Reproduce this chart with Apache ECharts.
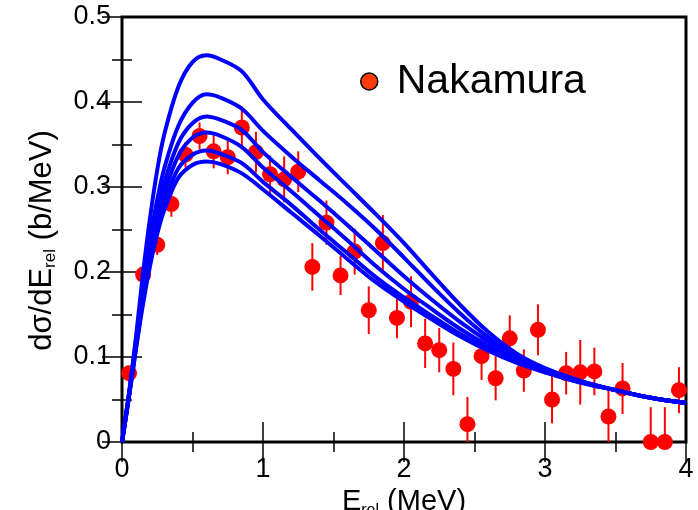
<!DOCTYPE html>
<html>
<head>
<meta charset="utf-8">
<script src="https://cdn.jsdelivr.net/npm/echarts@6/dist/echarts.min.js"></script>
<style>
  html, body { margin: 0; padding: 0; background: #ffffff; }
  #chart { width: 698px; height: 510px; }
</style>
</head>
<body>
<div id="chart"></div>
<script>
// Measured Coulomb-breakup spectrum (Nakamura): relative energy, cross section, error
const expE = [0.05, 0.15, 0.25, 0.35, 0.45, 0.55, 0.65, 0.75, 0.85, 0.95,
              1.05, 1.15, 1.25, 1.35, 1.45, 1.55, 1.65, 1.75, 1.85, 1.95,
              2.05, 2.15, 2.25, 2.35, 2.45, 2.55, 2.65, 2.75, 2.85, 2.95,
              3.05, 3.15, 3.25, 3.35, 3.45, 3.55, 3.75, 3.85, 3.95];
const expSigma = [0.081, 0.197, 0.232, 0.280, 0.338, 0.360, 0.342, 0.335, 0.370, 0.341,
                  0.315, 0.309, 0.318, 0.206, 0.258, 0.196, 0.224, 0.155, 0.234, 0.146,
                  0.165, 0.116, 0.108, 0.086, 0.021, 0.101, 0.075, 0.122, 0.084, 0.132,
                  0.050, 0.081, 0.082, 0.083, 0.030, 0.063, 0.000, 0.000, 0.061];
const expErr = [0.008, 0.010, 0.012, 0.015, 0.015, 0.016, 0.020, 0.020, 0.025, 0.024,
                0.022, 0.027, 0.024, 0.028, 0.026, 0.023, 0.027, 0.028, 0.033, 0.024,
                0.030, 0.029, 0.026, 0.031, 0.032, 0.028, 0.026, 0.027, 0.025, 0.030,
                0.028, 0.025, 0.038, 0.028, 0.030, 0.030, 0.041, 0.041, 0.027];

// Calculated spectra, one per model, on a common energy grid
const calcE = [0, 0.05, 0.1, 0.15, 0.2, 0.25, 0.3, 0.4, 0.5, 0.6, 0.7, 0.85, 1.0,
               1.2, 1.4, 1.6, 1.8, 2.0, 2.2, 2.4, 2.6, 2.8, 3.0, 3.25, 3.5, 3.75, 4.0];
const calcA = [0, 0.058, 0.125, 0.200, 0.265, 0.320, 0.362, 0.418, 0.447, 0.455, 0.450, 0.436, 0.403,
               0.368, 0.334, 0.301, 0.268, 0.234, 0.197, 0.161, 0.129, 0.104, 0.087, 0.072, 0.061, 0.052, 0.046];
const calcB = [0, 0.057, 0.120, 0.185, 0.240, 0.285, 0.322, 0.372, 0.399, 0.409, 0.405, 0.392, 0.366,
               0.336, 0.308, 0.280, 0.250, 0.217, 0.183, 0.151, 0.123, 0.101, 0.086, 0.072, 0.061, 0.052, 0.046];
const calcC = [0, 0.056, 0.117, 0.178, 0.230, 0.272, 0.305, 0.352, 0.375, 0.383, 0.379, 0.367, 0.341,
               0.312, 0.284, 0.255, 0.225, 0.195, 0.167, 0.141, 0.118, 0.098, 0.084, 0.071, 0.061, 0.052, 0.046];
const calcD = [0, 0.055, 0.115, 0.173, 0.222, 0.262, 0.293, 0.337, 0.358, 0.364, 0.360, 0.347, 0.323,
               0.295, 0.266, 0.237, 0.207, 0.180, 0.156, 0.133, 0.113, 0.096, 0.083, 0.071, 0.061, 0.052, 0.046];
const calcF = [0, 0.054, 0.112, 0.168, 0.215, 0.253, 0.282, 0.322, 0.338, 0.343, 0.339, 0.328, 0.306,
               0.279, 0.250, 0.222, 0.194, 0.170, 0.148, 0.127, 0.109, 0.094, 0.082, 0.070, 0.061, 0.052, 0.046];
const calcG = [0, 0.053, 0.110, 0.163, 0.208, 0.245, 0.273, 0.311, 0.326, 0.330, 0.327, 0.316, 0.297,
               0.270, 0.243, 0.215, 0.188, 0.165, 0.144, 0.124, 0.107, 0.093, 0.082, 0.070, 0.061, 0.052, 0.046];
const calcCurves = [calcA, calcB, calcC, calcD, calcF, calcG];

const xTicks = { min: 0, max: 4, interval: 1 };
const yTicks = { min: 0, max: 0.5, interval: 0.1 };

const FONT = 'Liberation Sans, Arial, Helvetica, sans-serif';
const chart = echarts.init(document.getElementById('chart'), null, { renderer: 'canvas' });

function frameAxis(base, pos, showLabels, extra) {
  return Object.assign({
    type: 'value',
    position: pos,
    min: base.min, max: base.max, interval: base.interval,
    axisLine: { show: false },
    splitLine: { show: false },
    axisTick: { show: true, inside: true, length: 20, lineStyle: { color: '#000', width: 1.5 } },
    minorTick: { show: true, splitNumber: 2, length: 10, lineStyle: { color: '#000', width: 1.5 } },
    axisLabel: { show: showLabels, color: '#000', fontSize: 27, fontFamily: FONT }
  }, extra || {});
}

const xTitleRich = {
  m: { fontSize: 29, fontFamily: FONT, color: '#000', lineHeight: 32 },
  s: { fontSize: 16, fontFamily: FONT, color: '#000', lineHeight: 15, verticalAlign: 'bottom' }
};
const yTitleRich = {
  m: { fontSize: 31, fontFamily: FONT, color: '#000', lineHeight: 33 },
  s: { fontSize: 17, fontFamily: FONT, color: '#000', lineHeight: 15, verticalAlign: 'bottom' }
};

const curveSeries = calcCurves.map(function (vals, k) {
  return {
    name: 'calc' + k,
    type: 'line',
    data: calcE.map(function (e, i) { return [e, vals[i]]; }),
    showSymbol: false,
    smooth: 0.35,
    lineStyle: { color: '#0000ff', width: 4 },
    z: 4,
    silent: true
  };
});

chart.setOption({
  animation: false,
  backgroundColor: '#ffffff',
  grid: {
    left: 122, top: 17, right: 12, bottom: 68,
    outerBoundsMode: 'none', containLabel: false,
    show: true, borderColor: '#000', borderWidth: 3, backgroundColor: 'transparent'
  },
  legend: {
    data: [{ name: 'Nakamura', icon: 'circle',
             itemStyle: { color: '#ff3a0a', borderColor: '#000000', borderWidth: 1.5 } }],
    left: 355, top: 56,
    itemWidth: 17, itemHeight: 17,
    textStyle: { fontSize: 41, fontFamily: FONT, color: '#000', padding: [0, 0, 0, 14] },
    selectedMode: false
  },
  xAxis: [
    frameAxis(xTicks, 'bottom', true, {
      axisLabel: { show: true, color: '#000', fontSize: 27, fontFamily: FONT, margin: 14 },
      name: '{m|E}{s|rel}{m| (MeV)}',
      nameLocation: 'middle',
      nameGap: 42,
      nameTextStyle: { rich: xTitleRich }
    }),
    frameAxis(xTicks, 'top', false)
  ],
  yAxis: [
    frameAxis(yTicks, 'left', true, {
      axisLabel: { show: true, color: '#000', fontSize: 27, fontFamily: FONT, margin: 11 },
      name: '{m|d\u03c3/dE}{s|rel}{m| (b/MeV)}',
      nameLocation: 'middle',
      nameRotate: 90,
      nameGap: 63,
      nameTextStyle: { rich: yTitleRich, padding: [0, 22, 0, 0] }
    }),
    frameAxis(yTicks, 'right', false)
  ],
  series: [
    {
      name: 'errors',
      type: 'custom',
      clip: true,
      z: 2,
      silent: true,
      data: expE.map(function (e, i) { return [e, expSigma[i] - expErr[i], expSigma[i] + expErr[i]]; }),
      renderItem: function (params, api) {
        var lo = api.coord([api.value(0), api.value(1)]);
        var hi = api.coord([api.value(0), api.value(2)]);
        return {
          type: 'line',
          shape: { x1: lo[0], y1: lo[1], x2: hi[0], y2: hi[1] },
          style: { stroke: '#ff0000', lineWidth: 2 }
        };
      }
    },
    {
      name: 'Nakamura',
      type: 'scatter',
      data: expE.map(function (e, i) { return [e, expSigma[i]]; }),
      symbol: 'circle',
      symbolSize: 16,
      itemStyle: { color: '#ff0000', opacity: 1 },
      z: 3,
      silent: true
    }
  ].concat(curveSeries)
});
</script>
</body>
</html>
